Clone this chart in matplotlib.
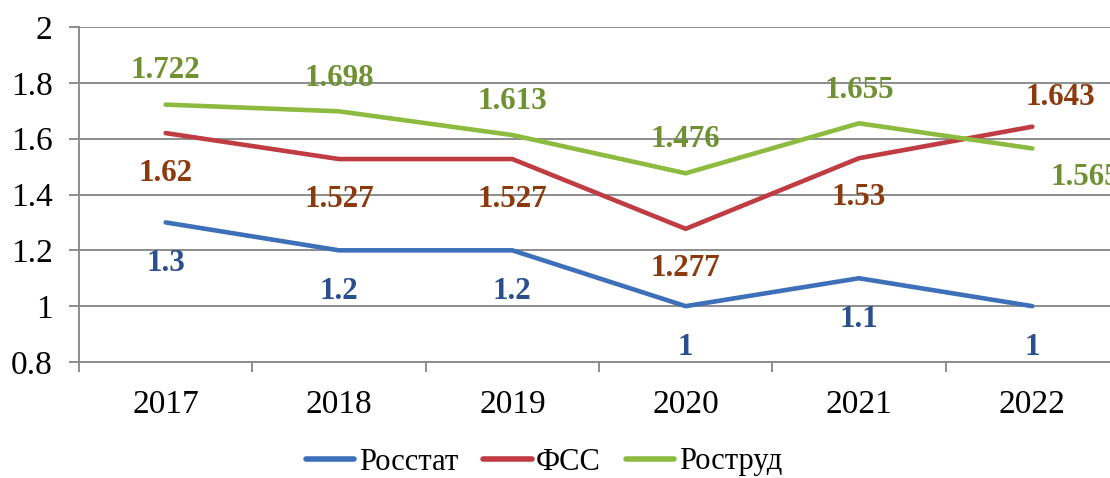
import matplotlib
matplotlib.use("Agg")
import matplotlib.pyplot as plt

years = ["2017", "2018", "2019", "2020", "2021", "2022"]
rosstat = [1.3, 1.2, 1.2, 1.0, 1.1, 1.0]
fss = [1.62, 1.527, 1.527, 1.277, 1.53, 1.643]
rostrud = [1.722, 1.698, 1.613, 1.476, 1.655, 1.565]
series_names = ["Росстат", "ФСС", "Роструд"]

plt.rcParams['font.family'] = ['Liberation Serif', 'DejaVu Serif']

W, H = 1110, 478
fig = plt.figure(figsize=(W / 100, H / 100), dpi=100)
left, right, top, bottom = 79, 1119, 27, 362
ax = fig.add_axes([left / W, 1 - bottom / H, (right - left) / W, (bottom - top) / H])

x = list(range(len(years)))
line_colors = ["#3d70b9", "#bf3c42", "#8dbb40"]
label_colors = ["#2a4f8e", "#8b3a0e", "#6f9132"]
data = [rosstat, fss, rostrud]

for vals, c, name in zip(data, line_colors, series_names):
    ax.plot(x, vals, color=c, lw=3.3, solid_capstyle='round', label=name, zorder=3)

def fmt(v):
    s = ("%.3f" % v).rstrip('0').rstrip('.')
    return s

# label offsets in pixels
offs = {
    0: [(0, -41)] * 6,
    1: [(0, -40), (0, -40), (0, -40), (0, -40), (0, -39), (28, 29)],
    2: [(0, 34), (0, 33), (0, 34), (0, 34), (0, 33), (53, -29)],
}
for si, (vals, lc) in enumerate(zip(data, label_colors)):
    for i, v in enumerate(vals):
        dx, dy = offs[si][i]
        ax.annotate(fmt(v), (i, v), xytext=(dx, dy), textcoords='offset pixels',
                    ha='center', va='center', fontsize=22.3, fontweight='bold',
                    color=lc, annotation_clip=False, zorder=4)

ax.set_xlim(-0.5, 5.5)
ax.set_ylim(0.8, 2.0)
ax.set_yticks([0.8, 1.0, 1.2, 1.4, 1.6, 1.8, 2.0])
ax.set_yticklabels(["0.8", "1", "1.2", "1.4", "1.6", "1.8", "2"])
ax.grid(axis='y', color='#8c8c8c', lw=1.4, zorder=1)
ax.set_axisbelow(True)

ax.set_xticks(x)
ax.set_xticklabels(years)
ax.set_xticks([i + 0.5 for i in range(-1, 6)], minor=True)
ax.tick_params(axis='x', which='major', length=0, pad=20, labelsize=24)
ax.tick_params(axis='x', which='minor', length=7, width=1.4, color='#8c8c8c')
ax.tick_params(axis='y', length=7, width=1.4, color='#8c8c8c', labelsize=24, pad=12)

for s in ['top', 'right']:
    ax.spines[s].set_visible(False)
for s in ['left', 'bottom']:
    ax.spines[s].set_color('#8c8c8c')
    ax.spines[s].set_linewidth(1.4)

leg = fig.legend(loc='center', bbox_to_anchor=(544 / W, 1 - 462 / H), ncol=3,
                 frameon=False, fontsize=22, handlelength=1.6, handletextpad=0.15,
                 columnspacing=0.8)
for h in leg.get_lines():
    h.set_linewidth(4.0)

fig.savefig("out.png", dpi=100)
